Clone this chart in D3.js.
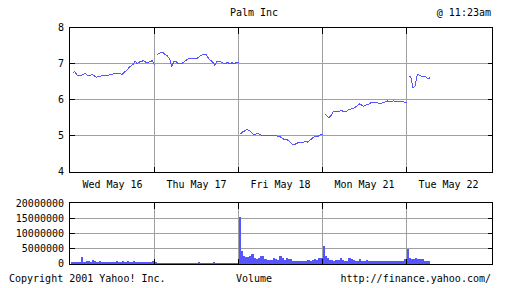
<!DOCTYPE html>
<html><head><meta charset="utf-8">
<script src="https://cdn.jsdelivr.net/npm/d3@7"></script>
<style>
html,body{margin:0;padding:0;background:#fff;}
svg{display:block;}
text{font-family:"DejaVu Sans Mono","Liberation Mono",monospace;font-size:10px;fill:#000;}
</style></head>
<body>
<script>
// ---- data ----
const title = "Palm Inc";
const timeStamp = "@ 11:23am";
const dayLabels = ["Wed May 16","Thu May 17","Fri May 18","Mon May 21","Tue May 22"];
const priceTicks = [4,5,6,7,8];
const volumeTicks = [0,5000000,10000000,15000000,20000000];
const sampleMinutes = 10; // samples every 10 minutes from 9:40, session 9:30-16:00 (390 min)

const wedPrice = [6.72,6.78,6.68,6.66,6.67,6.70,6.72,6.66,6.67,6.70,6.66,6.62,6.64,6.65,6.66,6.67,6.67,6.68,6.69,6.71,6.71,6.73,6.72,6.70,6.76,6.80,6.88,6.93,6.97,7.07,6.99,7.04,7.06,7.08,7.03,7.03,7.05,7.08,6.96];
const thuPrice = [7.25,7.27,7.30,7.30,7.25,7.21,7.13,6.93,7.05,7.05,7.00,7.00,7.01,7.06,7.10,7.15,7.13,7.13,7.15,7.15,7.20,7.23,7.26,7.24,7.15,7.09,7.04,6.95,7.06,7.07,7.04,7.01,7.00,7.03,6.99,7.02,6.99,7.03,7.02];
const friPrice = [5.05,5.10,5.13,5.17,5.14,5.08,5.03,5.04,5.05,5.03,5.00,5.00,5.00,4.99,5.00,5.01,5.00,4.98,4.98,4.94,4.90,4.89,4.87,4.81,4.76,4.75,4.78,4.81,4.82,4.80,4.84,4.82,4.86,4.91,4.96,4.98,4.98,5.02,5.04];
const monPrice = [5.61,5.54,5.50,5.56,5.67,5.68,5.68,5.68,5.69,5.66,5.65,5.71,5.73,5.75,5.78,5.82,5.88,5.85,5.81,5.84,5.86,5.89,5.93,5.91,5.91,5.90,5.89,5.91,5.93,5.96,5.95,5.95,5.96,5.94,5.95,5.94,5.94,5.93,5.91];
const tuePrice = [6.66,6.62,6.33,6.38,6.70,6.68,6.64,6.64,6.63,6.57,6.61];

// volume in millions of shares per 10-minute interval
const wedVol = [0.4,0.4,0.4,0.4,0.4,2.1,0.5,0.7,0.7,0.5,1.3,0.7,0.4,1.0,0.5,0.4,0.4,0.4,0.4,0.4,0.4,0.7,0.4,0.4,0.7,0.4,0.8,0.4,0.4,0.8,0.4,0.4,0.4,0.4,0.4,0.4,0.4,0.5,0.9];
const thuVol = [0.35,0.3,0.3,0.3,0.3,0.3,0.3,0.3,0.3,0.3,0.3,0.3,0.3,0.3,0.3,0.3,0.3,0.3,0.3,0.3,0.6,0.3,0.3,0.3,0.3,0.3,0.3,0.6,0.3,0.3,0.3,0.3,0.3,0.3,0.3,0.3,0.3,0.3,0.3];
const friVol = [15.5,4.1,2.6,2.2,2.2,2.6,3.3,2.0,1.4,1.7,2.6,2.6,1.5,1.2,1.1,1.2,1.9,1.4,1.3,2.6,1.7,1.1,1.9,1.4,1.4,0.8,1.0,1.0,0.9,1.0,1.0,1.0,1.2,1.0,1.3,1.5,1.3,1.7,2.0];
const monVol = [5.8,2.6,1.7,1.3,1.1,1.0,1.2,1.3,1.9,1.1,1.0,1.0,1.9,1.4,1.1,1.0,1.0,1.4,1.0,1.0,1.2,1.0,1.0,0.8,0.8,0.8,0.8,0.8,0.8,0.8,0.8,0.8,0.8,0.8,0.8,0.8,0.9,1.0,1.4];
const tueVol = [5.0,1.7,1.5,1.6,1.7,1.4,1.5,1.4,1.0,0.8,0.7];

const priceByDay = [wedPrice,thuPrice,friPrice,monPrice,tuePrice];
const volByDay = [wedVol,thuVol,friVol,monVol,tueVol];

// ---- drawing ----
const W = 512, H = 288;
const blue = "#5555ff", grid = "#a0a0a0";
const svg = d3.select("body").append("svg").attr("width",W).attr("height",H)
  .attr("shape-rendering","crispEdges");

const x = d3.scaleLinear().domain([0,5]).range([70.5,490.5]);
const frameL = 69.5, frameR = 492.5;
const yP = d3.scaleLinear().domain([4,8]).range([171.5,27.5]);
const yV = d3.scaleLinear().domain([0,20000000]).range([263.5,203.5]);
const tOf = (d,k) => d + (k*sampleMinutes)/390;

function panel(yScale, ticks, top, bottom, fmt){
  const g = svg.append("g");
  // horizontal gridlines
  g.selectAll(".hg").data(ticks).enter().append("line")
    .attr("x1",frameL).attr("x2",frameR)
    .attr("y1",d=>Math.round(yScale(d)-0.5)+0.5).attr("y2",d=>Math.round(yScale(d)-0.5)+0.5)
    .attr("stroke",grid);
  // vertical gridlines
  const vb = [1,2,3,4];
  g.selectAll(".vg").data(vb).enter().append("line")
    .attr("x1",d=>x(d)).attr("x2",d=>x(d)).attr("y1",top).attr("y2",bottom).attr("stroke",grid);
  return g;
}
function frame(yScale, ticks, top, bottom){
  const g = svg.append("g");
  g.append("rect").attr("x",frameL).attr("y",top).attr("width",frameR-frameL).attr("height",bottom-top)
    .attr("fill","none").attr("stroke","#000");
  const inner = ticks.filter(t=>{const v=Math.round(yScale(t)-0.5)+0.5; return v>top+1 && v<bottom-1;});
  inner.forEach(t=>{
    const yy = Math.round(yScale(t)-0.5)+0.5;
    g.append("line").attr("x1",frameL).attr("x2",frameL+5).attr("y1",yy).attr("y2",yy).attr("stroke","#000");
    g.append("line").attr("x1",frameR-5).attr("x2",frameR).attr("y1",yy).attr("y2",yy).attr("stroke","#000");
  });
  [1,2,3,4].forEach(d=>{
    g.append("line").attr("x1",x(d)).attr("x2",x(d)).attr("y1",top).attr("y2",top+6).attr("stroke","#000");
    g.append("line").attr("x1",x(d)).attr("x2",x(d)).attr("y1",bottom-6).attr("y2",bottom).attr("stroke","#000");
  });
}

// price panel
const pTop = 27.5, pBot = 172.5;
panel(yP, priceTicks.filter(t=>t>4&&t<8), pTop, pBot);
const line = d3.line().x(d=>d[0]).y(d=>d[1]);
priceByDay.forEach((arr,di)=>{
  const pts = arr.map((v,k)=>[x(tOf(di,k+1)), yP(v)]);
  svg.append("path").attr("d",line(pts)).attr("fill","none").attr("stroke",blue)
    .attr("stroke-width",1).attr("shape-rendering","crispEdges");
});
frame(yP, priceTicks, pTop, pBot);

// volume panel
const vTop = 202.5, vBot = 264.5;
panel(yV, volumeTicks.filter(t=>t>0&&t<20000000), vTop, vBot);
volByDay.forEach((arr,di)=>{
  svg.append("g").selectAll("rect").data(arr).enter().append("rect")
    .attr("x",(v,k)=>x(tOf(di,k)))
    .attr("width",(v,k)=>x(tOf(di,k+1))-x(tOf(di,k)))
    .attr("y",v=>yV(v*1e6))
    .attr("height",v=>vBot-yV(v*1e6))
    .attr("fill",blue);
});
frame(yV, volumeTicks, vTop, vBot);

// axes labels via d3 axes
const axP = d3.axisLeft(yP).tickValues(priceTicks).tickSize(0).tickPadding(6).tickFormat(d3.format("d"));
svg.append("g").attr("transform","translate(70,0)").call(axP)
  .call(g=>g.select(".domain").remove())
  .selectAll("text").attr("font-family",null).attr("font-size",null);
const axV = d3.axisLeft(yV).tickValues(volumeTicks).tickSize(0).tickPadding(6).tickFormat(d3.format("d"));
svg.append("g").attr("transform","translate(70,0)").call(axV)
  .call(g=>g.select(".domain").remove())
  .selectAll("text").attr("font-family",null).attr("font-size",null);

const xDay = d3.scaleBand().domain(dayLabels).range([x(0),x(5)]);
const axD = d3.axisBottom(xDay).tickSize(0).tickPadding(0);
svg.append("g").attr("transform","translate(0,181)").call(axD)
  .call(g=>g.select(".domain").remove())
  .selectAll("text").attr("font-family",null).attr("font-size",null);

svg.append("text").attr("x",254).attr("y",16).attr("text-anchor","middle").text(title);
svg.append("text").attr("x",491).attr("y",16).attr("text-anchor","end").text(timeStamp);
svg.append("text").attr("x",9).attr("y",282).text("Copyright 2001 Yahoo! Inc.");
svg.append("text").attr("x",254).attr("y",282).attr("text-anchor","middle").text("Volume");
svg.append("text").attr("x",491).attr("y",282).attr("text-anchor","end").text("http://finance.yahoo.com/");
</script>
</body></html>
